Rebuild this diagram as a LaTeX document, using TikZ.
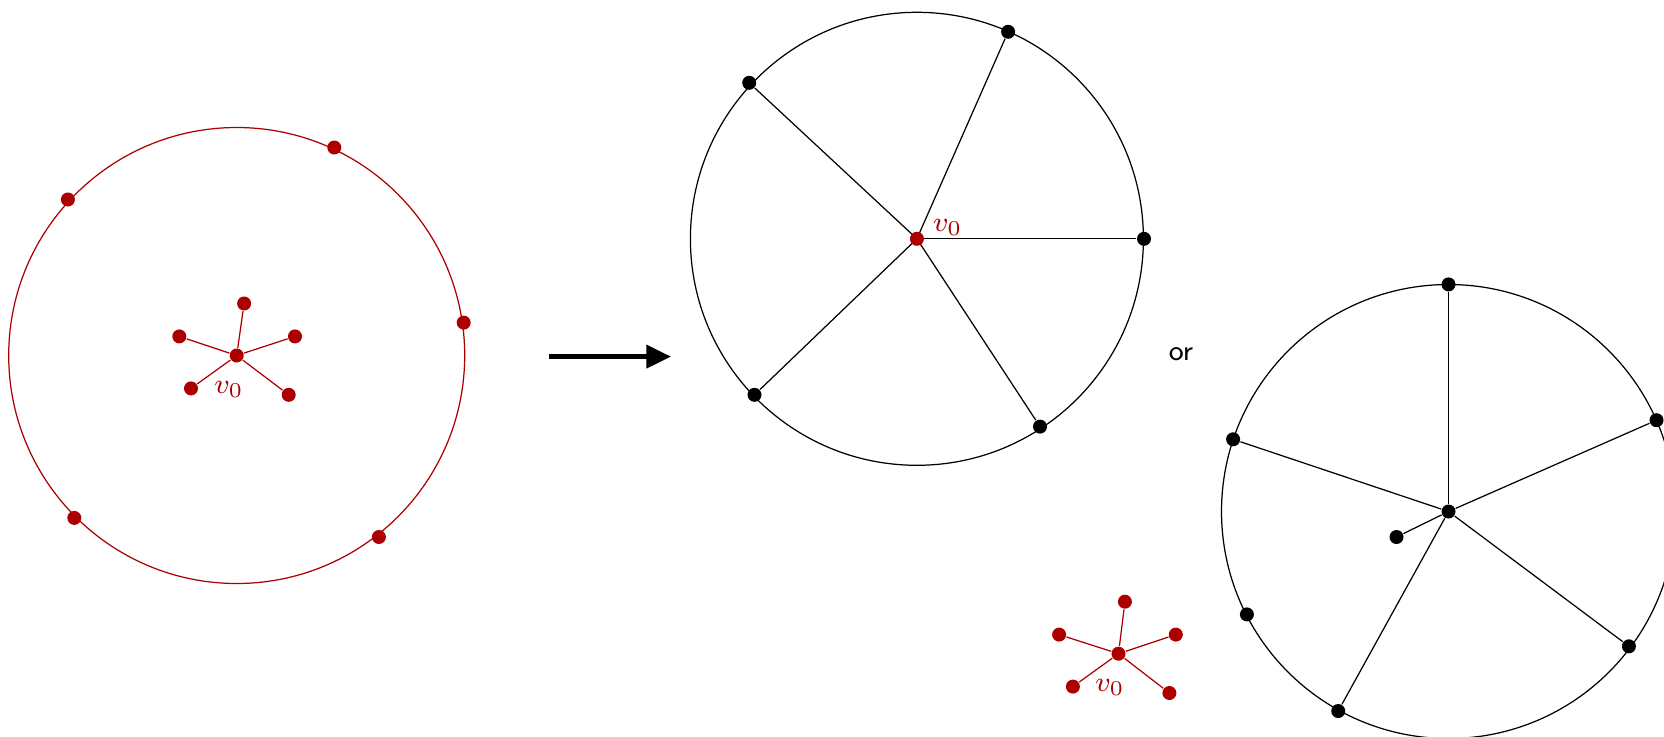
\documentclass[tikz,border=0pt]{standalone}
\usepackage{xcolor}
\usepackage{tikz}
\usetikzlibrary{positioning,arrows.meta}
\definecolor{vred}{RGB}{172, 0, 0}

\tikzset{
  dot/.style={circle, fill=black, inner sep=0pt, minimum size=0.14cm},
  rdot/.style={dot, fill=vred},
  rim/.style={draw=black, line width=0.35pt},
  spoke/.style={draw=black, line width=0.35pt},
  rspoke/.style={draw=vred, line width=0.35pt},
  vlabel/.style={text=vred, font=\footnotesize, inner sep=0pt}
}

\begin{document}
\begin{tikzpicture}[x=0.01cm, y=-0.01cm]
        \useasboundingbox (0,0) rectangle (1664,736);
        \clip (0,0) rectangle (1664,736);

        % left: star inside a red cycle
        \draw[rim, draw=vred] (236.7,355.5) circle (228);
        \node[rdot] (l1) at (334.3,147.5) {};
        \node[rdot] (l2) at (67.9,199.5) {};
        \node[rdot] (l3) at (463.7,322.6) {};
        \node[rdot] (l4) at (74.3,517.9) {};
        \node[rdot] (l5) at (378.9,537.0) {};

        \node[rdot] (s0) at (236.7,355.5) {};
        \node[rdot] (s1) at (244.1,303.5) {};
        \node[rdot] (s2) at (179.3,336.4) {};
        \node[rdot] (s3) at (295.0,336.4) {};
        \node[rdot] (s4) at (191.0,388.4) {};
        \node[rdot] (s5) at (288.7,394.8) {};
        \node[vlabel] (s0lab) at (229,389.5) {$v_0$};
        \foreach \i in {1,...,5}
            \draw[rspoke] (s0) -- (s\i);

        % arrow
        \coordinate (a1) at (548.6,356.6);
        \coordinate (a2) at (671,356.6);
        \draw[-{Triangle[length=7pt,width=6.5pt]}, line width=1.2pt] (a1) -- (a2);

        % middle: wheel
        \draw[rim] (916.9,238.8) circle (226.5);
        \node[dot] (m1) at (1008.1,31.8) {};
        \node[dot] (m2) at (749.2,82.8) {};
        \node[dot] (m3) at (1144.0,238.8) {};
        \node[dot] (m4) at (754.5,394.8) {};
        \node[dot] (m5) at (1040.0,426.6) {};
        \foreach \i in {1,...,5}
            \draw[spoke] (916.9,238.8) -- (m\i);
        \node[rdot] (m0) at (916.9,238.8) {};
        \node[vlabel] (m0lab) at (947.7,227) {$v_0$};

        \node[font=\sffamily\footnotesize] (or) at (1181,354.4) {or};

        % right: wheel with one spoke cut short
        \draw[rim] (1448.5,511.5) circle (227);
        \node[dot] (r0) at (1448.5,511.5) {};
        \node[dot] (r1) at (1448.5,284.4) {};
        \node[dot] (r2) at (1656.5,420.2) {};
        \node[dot] (r3) at (1233.1,439.3) {};
        \node[dot] (r4) at (1628.9,646.3) {};
        \node[dot] (r5) at (1338.2,711.0) {};
        \node[dot] (r6) at (1246.9,614.4) {};
        \node[dot] (r7) at (1396.5,537.0) {};
        \foreach \i in {1,2,3,4,5,7}
            \draw[spoke] (r0) -- (r\i);

        % bottom: the star on its own
        \node[rdot] (t0) at (1118.5,653.7) {};
        \node[rdot] (t1) at (1124.9,601.7) {};
        \node[rdot] (t2) at (1059.1,634.6) {};
        \node[rdot] (t3) at (1175.8,634.6) {};
        \node[rdot] (t4) at (1072.9,686.6) {};
        \node[rdot] (t5) at (1169.4,693.0) {};
        \node[vlabel] (t0lab) at (1110,687.7) {$v_0$};
        \foreach \i in {1,...,5}
            \draw[rspoke] (t0) -- (t\i);
    \end{tikzpicture}
\end{document}
